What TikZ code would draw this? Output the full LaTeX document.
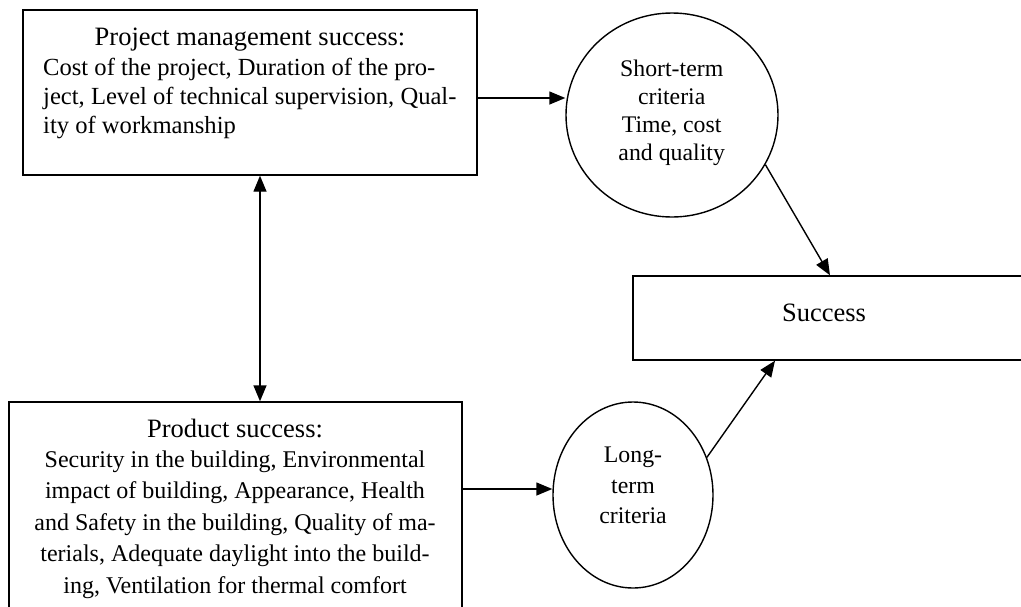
\documentclass[tikz,border=0pt]{standalone}
\usepackage{fontspec}
\setmainfont{Liberation Serif}
\usetikzlibrary{arrows.meta,shapes.geometric}
\begin{document}
\begin{tikzpicture}[x=1pt,y=-1pt,
  box/.style={draw,line width=1.4pt,rectangle,inner sep=0pt},
  circ/.style={draw,line width=1.4pt,ellipse,inner sep=0pt},
  arr/.style={line width=1.4pt,-{Triangle[length=16pt,width=13pt]}},
  darr/.style={line width=1.4pt,{Triangle[length=16pt,width=13pt]}-{Triangle[length=16pt,width=13pt]}},
  ttl/.style={font=\fontsize{26.5}{32}\selectfont,inner sep=0pt,anchor=base},
  topbody/.style={font=\fontsize{24.6}{29}\selectfont,inner sep=0pt,align=left,anchor=north west},
  botbody/.style={font=\fontsize{24}{31.5}\selectfont,inner sep=0pt,align=center,anchor=north},
  stext/.style={font=\fontsize{23.8}{28}\selectfont,inner sep=0pt,align=center,anchor=north},
  ltext/.style={font=\fontsize{23.8}{30.5}\selectfont,inner sep=0pt,align=center,anchor=north}
]
\useasboundingbox (0,0) rectangle (1021,606);
\clip (0,0) rectangle (1021,606);

% boxes and ellipses
\node[box,minimum width=454pt,minimum height=165pt] (topbox) at (250,92.5) {};
\node[box,minimum width=453pt,minimum height=228pt] (botbox) at (235.5,516) {};
\node[box,minimum width=394pt,minimum height=84pt] (succbox) at (830,318) {};
\node[circ,minimum width=212pt,minimum height=204pt] (stc) at (672,115) {};
\node[circ,minimum width=160pt,minimum height=186pt] (ltc) at (633,495) {};

% texts
\node[ttl] (t1) at (250,45) {Project management success:};
\node[topbody] (t1b) at (43,58.2) {Cost of the project, Duration of the pro-\\ject, Level of technical supervision, Qual-\\ity of workmanship};
\node[ttl] (t2) at (235,437) {Product success:};
\node[botbody] (t2b) at (235,450.6) {Security in the building, Environmental\\impact of building, Appearance, Health\\and Safety in the building, Quality of ma-\\terials, Adequate daylight into the build-\\ing, Ventilation for thermal comfort};
\node[ttl] (t3) at (824,321) {Success};
\node[stext] (t4) at (671.7,59.7) {Short-term\\criteria\\Time, cost\\and quality};
\node[ltext] (t5) at (633,447.2) {Long-\\term\\criteria};

% connectors
\coordinate (vx) at (260,0);
\draw[darr] (topbox.south -| vx) -- (botbox.north -| vx);
\draw[arr] ([yshift=-5.5pt]topbox.east) -- ([yshift=-5.5pt]topbox.east -| stc.west);
\draw[arr] ([yshift=27pt]botbox.east) -- ([yshift=27pt]botbox.east -| ltc.west);
\draw[arr] (stc.-28) -- (succbox.north);
\draw[arr] (ltc.27) -- ([xshift=-55pt]succbox.south);
\end{tikzpicture}
\end{document}
